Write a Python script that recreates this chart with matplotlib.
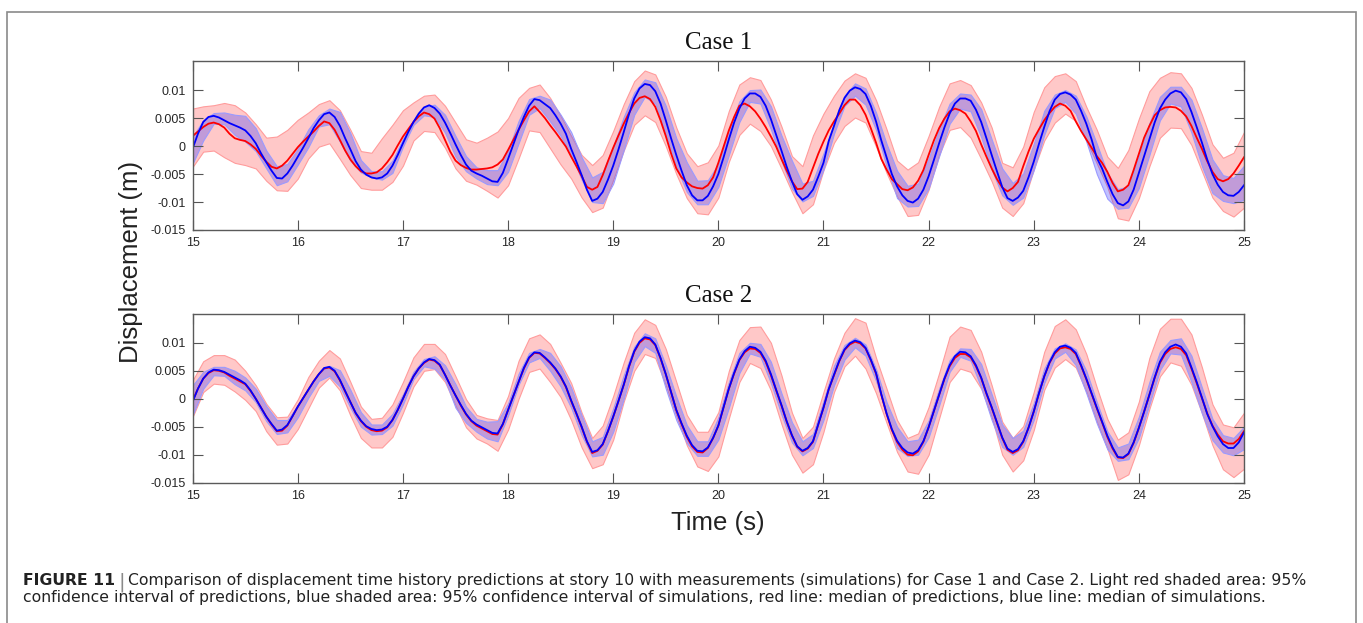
import numpy as np
import matplotlib.pyplot as plt
from matplotlib.patches import Rectangle

# sampling times (s): bands every 0.1 s, medians every 0.05 s
time = np.linspace(15, 25, 101)
time_fine = np.linspace(15, 25, 201)

# displacement values in mm
# Case 1 medians, one row per half second
c1_pred_med = [1.8, 2.6, 3.4, 4.0, 4.2, 3.9, 3.3, 2.2, 1.4, 1.1,
               0.9, 0.3, -0.5, -1.7, -2.8, -3.7, -4.0, -3.5, -2.6, -1.4,
               -0.2, 0.8, 1.7, 2.6, 3.6, 4.4, 4.1, 2.9, 1.1, -0.8,
               -2.4, -3.6, -4.5, -4.9, -4.9, -4.7, -4.0, -2.9, -1.6, 0.1,
               1.7, 3.0, 4.3, 5.3, 6.0, 5.7, 4.9, 3.2, 1.1, -1.0,
               -2.6, -3.4, -3.9, -4.2, -4.2, -4.1, -4.0, -3.8, -3.3, -2.4,
               -0.7, 1.1, 2.9, 4.6, 6.2, 7.1, 6.1, 5.0, 3.7, 2.5,
               1.2, -0.1, -1.9, -3.6, -5.4, -7.3, -7.8, -7.3, -5.2, -2.7,
               -0.3, 1.9, 4.0, 5.9, 7.6, 8.6, 8.9, 8.4, 7.0, 4.6,
               1.8, -1.3, -4.0, -5.6, -6.5, -7.2, -7.5, -7.6, -7.0, -5.6,
               -3.0, -0.1, 2.8, 5.2, 7.2, 7.6, 7.1, 6.2, 4.9, 3.4,
               1.7, -0.1, -2.3, -4.4, -6.3, -7.7, -7.6, -6.4, -3.9, -1.4,
               0.8, 2.8, 4.4, 5.8, 7.3, 8.3, 8.3, 7.3, 5.6, 3.2,
               0.6, -2.3, -4.2, -5.9, -6.8, -7.7, -7.9, -7.4, -6.2, -4.3,
               -1.6, 1.0, 3.2, 4.9, 6.2, 6.7, 6.4, 5.8, 4.4, 2.7,
               0.3, -1.9, -4.0, -5.9, -7.4, -8.1, -7.5, -6.4, -3.6, -1.0,
               1.3, 3.0, 4.6, 5.9, 7.0, 7.6, 7.2, 6.3, 4.4, 2.7,
               1.2, -0.3, -1.8, -3.0, -4.6, -6.6, -8.1, -7.8, -7.0, -4.3,
               -1.4, 1.5, 3.6, 5.5, 6.4, 6.9, 7.0, 6.9, 6.3, 5.3,
               3.6, 1.5, -0.5, -2.7, -4.6, -5.9, -6.3, -5.9, -4.9, -3.5,
               -2.0]
c1_sim_med = [-0.4, 2.2, 4.3, 5.2, 5.4, 5.1, 4.6, 4.1, 3.7, 3.3,
              2.8, 1.8, 0.5, -1.3, -2.9, -4.4, -5.7, -5.8, -4.9, -3.5,
              -1.9, -0.3, 1.4, 3.2, 4.6, 5.7, 6.0, 5.2, 3.6, 1.4,
              -0.6, -2.7, -4.2, -5.1, -5.6, -5.8, -5.6, -4.9, -3.5, -1.6,
              0.5, 2.5, 4.3, 5.8, 6.9, 7.3, 6.8, 5.8, 4.2, 2.3,
              0.3, -1.6, -3.3, -4.4, -4.9, -5.3, -5.8, -6.3, -6.4, -4.8,
              -2.3, 0.3, 2.9, 5.2, 7.2, 8.4, 8.2, 7.5, 6.8, 5.5,
              4.0, 2.2, -0.5, -2.8, -5.2, -7.8, -9.8, -9.4, -8.2, -6.0,
              -3.5, -0.6, 2.5, 5.7, 8.5, 10.3, 11.1, 10.9, 9.8, 7.6,
              4.6, 1.4, -1.6, -4.4, -7.0, -8.8, -9.7, -9.7, -8.9, -7.2,
              -5.0, -2.0, 1.2, 4.2, 6.7, 8.5, 9.4, 9.4, 8.8, 7.2,
              4.8, 2.0, -0.8, -3.7, -6.3, -8.6, -9.6, -9.0, -7.8, -5.5,
              -3.0, 0.9, 3.6, 6.4, 8.6, 9.9, 10.5, 10.2, 9.3, 7.2,
              4.4, 1.0, -2.0, -5.0, -7.2, -8.8, -9.8, -10.1, -9.4, -7.8,
              -5.4, -2.5, 0.5, 3.3, 5.8, 7.6, 8.5, 8.5, 8.1, 6.5,
              4.3, 1.4, -1.6, -4.5, -7.3, -9.3, -9.8, -9.2, -8.0, -5.6,
              -2.8, 0.4, 3.4, 6.2, 8.3, 9.3, 9.6, 9.2, 8.3, 6.3,
              4.0, 1.2, -2.1, -4.0, -6.4, -8.6, -10.2, -10.6, -9.9, -7.8,
              -4.8, -1.8, 1.2, 4.2, 6.7, 8.3, 9.4, 9.9, 9.6, 8.4,
              6.1, 3.4, 0.6, -2.4, -5.0, -6.9, -8.2, -8.8, -8.9, -8.2,
              -7.0]

# Case 1 bands, one row per second (x.0 ... x.9), last value at 25.0 s
c1_pred_lo = [-3.7, -1.0, -0.8, -2.0, -3.0, -3.4, -4.0, -6.2, -7.9, -8.0,
              -5.8, -2.2, -0.1, 0.5, -2.3, -5.2, -7.5, -7.8, -7.8, -6.4,
              -3.5, 1.0, 2.7, 2.5, -0.3, -4.0, -6.2, -6.9, -8.0, -9.2,
              -7.0, -2.2, 2.8, 2.5, -0.4, -3.3, -5.8, -9.2, -11.8, -11.0,
              -6.0, -0.8, 3.8, 5.5, 4.3, 0.0, -5.0, -9.3, -12.0, -12.2,
              -9.2, -2.8, 2.0, 4.0, 2.7, 0.0, -4.0, -8.2, -12.0, -10.4,
              -4.3, 0.6, 3.6, 5.1, 4.2, -0.1, -4.8, -9.0, -12.5, -12.3,
              -7.8, -1.6, 2.9, 3.4, 1.5, -2.3, -6.3, -11.0, -12.5, -10.2,
              -4.2, 1.0, 4.2, 5.8, 4.5, 1.0, -3.1, -7.3, -12.9, -13.3,
              -9.3, -3.6, 1.5, 3.3, 3.2, 0.2, -4.5, -9.2, -11.6, -12.6,
              -11.0]
c1_pred_hi = [6.7, 7.1, 7.3, 7.7, 7.3, 6.0, 3.9, 1.5, 1.7, 2.9,
              4.7, 6.0, 7.5, 8.2, 6.4, 2.9, -0.9, -1.2, 1.4, 3.8,
              6.4, 7.8, 9.0, 9.2, 7.2, 4.2, 1.2, 0.6, 1.5, 2.6,
              5.0, 8.6, 10.4, 11.0, 8.6, 5.4, 1.8, -1.6, -3.4, -1.6,
              2.7, 7.5, 11.6, 13.5, 12.8, 8.8, 3.3, -1.3, -3.6, -2.9,
              0.1, 6.3, 11.0, 12.3, 11.8, 8.3, 3.5, -1.8, -3.6, 1.9,
              5.8, 9.0, 11.7, 13.0, 12.2, 8.2, 3.0, -2.6, -4.2, -2.9,
              1.8, 7.0, 11.2, 11.8, 10.9, 7.8, 3.3, -3.0, -3.8, -0.1,
              6.1, 10.5, 12.5, 13.0, 11.6, 7.0, 2.9, -1.9, -3.9, -0.7,
              4.9, 9.8, 12.2, 13.2, 13.0, 10.4, 5.6, 0.3, -2.1, -1.2,
              2.5]
c1_sim_lo = [-3.1, 1.0, 4.0, 3.9, 2.0, 0.8, -0.9, -4.0, -7.0, -6.3,
             -3.3, -0.2, 3.5, 3.9, 0.8, -2.6, -4.7, -5.6, -6.0, -4.8,
             -0.1, 3.8, 5.5, 5.2, 2.4, -1.9, -4.5, -5.8, -6.8, -7.0,
             -4.6, 0.5, 5.6, 6.8, 4.4, 1.8, -1.5, -6.0, -10.0, -10.2,
             -6.7, -0.7, 5.6, 8.8, 7.6, 2.2, -3.6, -8.2, -10.4, -10.4,
             -7.3, -1.6, 4.3, 7.9, 7.6, 3.0, -2.6, -7.6, -9.9, -8.9,
             -4.2, 2.2, 7.2, 9.0, 7.4, 2.9, -3.6, -9.3, -10.8, -10.7,
             -7.6, -1.8, 4.0, 6.7, 6.2, 1.6, -4.2, -8.8, -10.5, -9.2,
             -4.3, 2.0, 6.8, 7.9, 5.8, 0.8, -5.0, -9.4, -11.2, -11.0,
             -7.5, -1.6, 4.6, 7.6, 7.1, 2.4, -3.6, -8.4, -9.8, -10.2,
             -9.6]
c1_sim_hi = [1.7, 4.6, 5.9, 6.0, 5.6, 5.4, 3.2, -0.8, -3.6, -3.2,
             -0.5, 3.0, 5.5, 6.7, 6.1, 2.3, -2.5, -4.5, -4.5, -2.6,
             1.3, 4.6, 7.0, 7.4, 5.6, 1.8, -1.8, -3.8, -4.3, -4.3,
             -0.8, 4.5, 8.4, 9.0, 8.3, 5.6, 2.5, -2.0, -5.6, -4.6,
             -0.1, 5.2, 9.6, 11.9, 11.4, 7.2, 1.4, -2.9, -6.2, -6.1,
             -3.2, 2.8, 8.0, 10.0, 10.1, 7.1, 1.9, -2.6, -6.7, -6.2,
             -1.3, 4.0, 9.0, 11.2, 10.3, 6.0, 0.4, -4.4, -7.1, -6.7,
             -2.2, 3.0, 7.6, 9.4, 9.2, 6.6, 1.2, -4.0, -6.6, -4.9,
             0.4, 6.3, 9.2, 10.0, 9.0, 5.3, 0.4, -4.8, -7.7, -7.2,
             -1.8, 4.1, 8.8, 10.6, 10.6, 8.3, 3.2, -2.4, -5.2, -5.7,
             -3.5]

# Case 2 medians, one row per half second
c2_pred_med = [-0.3, 1.8, 3.6, 4.6, 5.1, 5.0, 4.7, 4.1, 3.6, 3.1,
               2.6, 1.4, 0.0, -1.6, -3.2, -4.6, -5.8, -5.7, -4.8, -3.1,
               -1.4, 0.1, 1.6, 3.1, 4.4, 5.4, 5.6, 4.9, 3.3, 1.3,
               -0.6, -2.6, -4.0, -5.0, -5.6, -5.8, -5.7, -5.1, -3.8, -2.0,
               0.0, 2.1, 4.0, 5.4, 6.4, 7.0, 6.8, 6.0, 4.3, 2.4,
               0.6, -1.2, -2.8, -4.0, -4.8, -5.3, -5.8, -6.3, -6.4, -4.6,
               -2.0, 0.5, 3.0, 5.4, 7.3, 8.2, 8.1, 7.3, 6.4, 5.3,
               3.9, 2.1, -0.4, -2.7, -5.1, -7.7, -9.7, -9.3, -8.2, -5.8,
               -3.2, -0.4, 2.5, 5.7, 8.4, 10.0, 10.8, 10.6, 9.6, 7.2,
               4.4, 1.2, -2.0, -4.5, -6.8, -8.5, -9.5, -9.6, -8.8, -7.0,
               -4.8, -1.5, 1.8, 4.5, 6.9, 8.3, 9.0, 8.9, 8.2, 6.6,
               4.2, 1.5, -1.2, -4.1, -6.6, -8.6, -9.4, -8.9, -7.7, -4.6,
               -1.6, 1.7, 4.2, 6.7, 8.7, 9.7, 10.2, 9.9, 9.0, 6.9,
               4.5, 0.7, -2.7, -5.6, -7.7, -9.1, -10.0, -10.1, -9.4, -7.7,
               -5.1, -2.2, 0.7, 3.5, 5.8, 7.3, 8.0, 8.0, 7.4, 5.8,
               3.7, 0.9, -1.6, -4.3, -7.0, -9.1, -9.7, -9.2, -7.7, -5.2,
               -2.3, 1.0, 4.0, 6.4, 8.1, 9.0, 9.2, 8.9, 8.0, 5.9,
               3.5, 0.9, -1.7, -4.2, -6.8, -8.9, -10.5, -10.6, -9.9, -7.9,
               -5.2, -2.3, 0.7, 3.7, 6.4, 8.0, 8.9, 9.2, 8.9, 7.8,
               5.4, 2.8, 0.1, -2.6, -4.8, -6.4, -7.6, -8.0, -8.0, -7.2,
               -5.8]
c2_sim_med = [-0.5, 1.8, 3.6, 4.7, 5.2, 5.1, 4.8, 4.3, 3.8, 3.3,
              2.7, 1.5, 0.0, -1.6, -3.2, -4.5, -5.7, -5.5, -4.7, -3.1,
              -1.4, 0.1, 1.6, 3.1, 4.4, 5.5, 5.7, 5.0, 3.4, 1.4,
              -0.6, -2.5, -3.9, -4.9, -5.4, -5.6, -5.5, -5.0, -3.8, -2.0,
              0.0, 2.1, 4.0, 5.4, 6.5, 7.1, 6.9, 6.1, 4.3, 2.4,
              0.6, -1.1, -2.7, -3.9, -4.6, -5.1, -5.6, -6.1, -6.2, -4.5,
              -2.0, 0.5, 3.0, 5.5, 7.4, 8.3, 8.2, 7.4, 6.5, 5.4,
              4.0, 2.2, -0.3, -2.6, -5.0, -7.6, -9.5, -9.2, -8.1, -5.8,
              -3.2, -0.4, 2.5, 5.8, 8.5, 10.2, 11.0, 10.8, 9.7, 7.3,
              4.4, 1.2, -2.0, -4.4, -6.6, -8.3, -9.3, -9.4, -8.7, -7.0,
              -4.8, -1.5, 1.8, 4.6, 7.0, 8.5, 9.3, 9.1, 8.4, 6.8,
              4.4, 1.6, -1.1, -4.0, -6.5, -8.5, -9.3, -8.8, -7.6, -4.6,
              -1.6, 1.7, 4.3, 6.8, 8.8, 9.9, 10.4, 10.1, 9.1, 7.0,
              4.6, 0.8, -2.6, -5.4, -7.5, -8.8, -9.6, -9.8, -9.2, -7.6,
              -5.1, -2.2, 0.7, 3.6, 6.0, 7.6, 8.4, 8.3, 7.6, 6.0,
              3.8, 1.0, -1.5, -4.2, -6.9, -8.9, -9.5, -9.0, -7.6, -5.2,
              -2.3, 1.0, 4.0, 6.5, 8.3, 9.3, 9.5, 9.1, 8.2, 6.0,
              3.6, 1.0, -1.6, -4.1, -6.6, -8.7, -10.4, -10.5, -9.8, -7.8,
              -5.2, -2.3, 0.7, 3.8, 6.6, 8.3, 9.3, 9.7, 9.3, 8.1,
              5.6, 3.0, 0.2, -2.7, -4.9, -6.7, -8.1, -8.8, -8.8, -7.8,
              -6.0]

# Case 2 bands, one row per second (x.0 ... x.9), last value at 25.0 s
c2_pred_lo = [-3.2, 1.2, 2.7, 2.5, 1.3, -0.2, -2.2, -5.8, -8.2, -8.0,
              -5.4, -1.7, 2.0, 3.8, 1.5, -3.0, -7.0, -8.7, -8.7, -6.8,
              -2.5, 2.2, 5.0, 5.3, 3.0, -1.2, -5.1, -7.1, -8.0, -9.3,
              -5.5, 0.0, 4.8, 5.4, 3.0, 0.3, -3.8, -8.7, -12.4, -11.7,
              -7.3, -0.5, 5.0, 8.0, 7.3, 2.4, -3.0, -8.3, -12.1, -12.9,
              -10.3, -3.5, 3.0, 6.4, 5.5, 1.5, -4.5, -10.0, -13.2, -11.7,
              -5.9, 1.2, 5.8, 7.7, 5.4, 1.0, -4.3, -9.5, -13.0, -13.4,
              -10.0, -3.5, 3.0, 5.4, 4.8, 1.8, -3.3, -10.0, -13.0, -11.0,
              -5.6, 1.6, 5.6, 7.1, 5.6, 1.3, -4.1, -8.9, -14.5, -13.5,
              -8.3, -1.8, 4.0, 6.5, 5.9, 2.5, -2.6, -8.3, -12.6, -14.0,
              -12.5]
c2_pred_hi = [3.3, 6.7, 7.8, 7.8, 7.0, 5.0, 2.4, -0.9, -3.3, -3.2,
              -0.1, 3.9, 6.8, 8.7, 7.2, 3.0, -1.4, -3.6, -3.4, -1.0,
              3.0, 7.4, 9.8, 9.8, 8.0, 4.0, -0.1, -2.9, -3.5, -3.8,
              0.5, 6.8, 10.8, 11.5, 9.8, 6.4, 2.8, -2.5, -7.0, -4.8,
              0.5, 6.5, 11.8, 14.2, 13.2, 8.9, 3.0, -2.9, -5.9, -5.9,
              -2.4, 5.0, 10.5, 12.8, 12.9, 10.0, 4.2, -2.5, -7.0, -5.0,
              1.2, 7.2, 11.8, 14.4, 13.6, 7.3, 1.8, -3.8, -7.0, -6.2,
              -1.5, 4.6, 11.1, 12.9, 12.3, 8.4, 2.4, -4.1, -7.0, -4.9,
              1.2, 8.4, 13.0, 14.2, 12.4, 8.0, 2.0, -3.6, -7.3, -6.0,
              -0.5, 7.3, 12.5, 14.3, 14.3, 11.5, 5.6, -1.0, -4.6, -5.1,
              -2.5]
c2_sim_lo = [-2.9, 1.8, 4.2, 4.1, 2.6, 1.5, -0.6, -4.0, -6.3, -6.0,
             -3.3, 0.2, 3.2, 4.1, 2.2, -1.6, -5.0, -6.4, -6.3, -4.8,
             -1.0, 3.5, 5.8, 5.4, 3.4, -1.6, -4.3, -5.9, -7.1, -7.6,
             -3.0, 2.5, 6.5, 7.3, 5.0, 2.2, -1.6, -6.5, -10.3, -10.0,
             -5.9, 0.0, 6.6, 9.4, 8.2, 1.8, -3.8, -7.9, -10.2, -10.2,
             -7.3, -1.6, 4.6, 8.1, 7.5, 2.8, -2.8, -7.8, -10.1, -8.8,
             -3.8, 2.4, 7.0, 9.2, 7.7, 3.2, -2.6, -8.8, -10.2, -10.0,
             -6.9, -1.2, 4.8, 7.5, 6.8, 2.0, -3.8, -8.6, -10.0, -8.6,
             -3.8, 2.8, 7.2, 8.4, 6.0, 1.0, -4.4, -9.0, -11.1, -10.8,
             -7.0, -1.0, 5.1, 8.1, 7.9, 3.0, -2.6, -7.4, -9.6, -10.1,
             -9.0]
c2_sim_hi = [2.4, 4.8, 5.7, 5.7, 5.0, 3.8, 1.8, -1.3, -3.8, -3.8,
             -1.1, 2.0, 4.6, 5.9, 5.1, 1.6, -2.4, -4.6, -4.6, -2.7,
             0.8, 4.8, 7.1, 7.6, 6.0, 2.6, -1.4, -3.6, -4.1, -4.0,
             -0.8, 4.5, 8.2, 8.9, 8.2, 5.8, 2.0, -3.0, -7.6, -6.8,
             -1.7, 4.2, 9.3, 11.7, 10.8, 6.0, 0.4, -4.7, -7.6, -7.6,
             -3.3, 3.0, 8.2, 10.0, 9.8, 6.6, 1.0, -4.2, -7.6, -6.3,
             -0.4, 5.9, 9.6, 10.9, 9.7, 5.3, -0.6, -5.0, -7.6, -7.3,
             -3.9, 1.8, 6.9, 9.0, 8.9, 6.2, 0.8, -4.6, -7.0, -5.7,
             -0.8, 5.4, 9.0, 9.9, 8.8, 5.0, -0.6, -5.8, -8.7, -8.0,
             -3.2, 3.0, 8.4, 10.5, 10.8, 7.7, 2.0, -3.6, -6.5, -7.0,
             -5.0]

cases = ['Case 1', 'Case 2']
series = [
    (c1_pred_lo, c1_pred_hi, c1_pred_med, c1_sim_lo, c1_sim_hi, c1_sim_med),
    (c2_pred_lo, c2_pred_hi, c2_pred_med, c2_sim_lo, c2_sim_hi, c2_sim_med),
]
xticks = list(range(15, 26))
yticks = [-0.015, -0.01, -0.005, 0, 0.005, 0.01]
ytick_labels = ['-0.015', '-0.01', '-0.005', '0', '0.005', '0.01']

caption_head = 'FIGURE 11'
caption_line1 = ('Comparison of displacement time history predictions at story 10 with '
                 'measurements (simulations) for Case 1 and Case 2. Light red shaded area: 95%')
caption_line2 = ('confidence interval of predictions, blue shaded area: 95% confidence interval '
                 'of simulations, red line: median of predictions, blue line: median of simulations.')

W, H = 1363, 623
fig = plt.figure(figsize=(W / 100, H / 100), dpi=100)
plt.rcParams['font.family'] = ['Liberation Sans', 'DejaVu Sans']

# axes boxes in pixels: (left, top, right, bottom)
boxes = [(192.7, 61, 1244, 230), (192.7, 313.7, 1244, 482.7)]
mm = 1e-3

for (l, t, r, b), title, (plo, phi, pmed, slo, shi, smed) in zip(boxes, cases, series):
    ax = fig.add_axes([l / W, 1 - b / H, (r - l) / W, (b - t) / H])
    ax.fill_between(time, np.array(plo) * mm, np.array(phi) * mm,
                    facecolor='#ffc8c8', edgecolor='#ff9c9c', lw=0.8)
    ax.fill_between(time, np.array(slo) * mm, np.array(shi) * mm,
                    facecolor=(0.2, 0.2, 1.0, 0.3), edgecolor='#9a9aff', lw=0.8)
    ax.plot(time_fine, np.array(pmed) * mm, color='#ff0000', lw=1.3)
    ax.plot(time_fine, np.array(smed) * mm, color='#0000ff', lw=1.3)

    ax.set_xlim(15, 25)
    ax.set_ylim(-0.015, 0.0152)
    ax.set_xticks(xticks)
    ax.set_xticklabels([str(x) for x in xticks])
    ax.set_yticks(yticks)
    ax.set_yticklabels(ytick_labels)
    ax.tick_params(direction='in', length=7, width=0.8, top=True, right=True,
                   color='#555555', labelcolor='#262626', labelsize=9)
    ax.tick_params(axis='x', pad=5)
    ax.tick_params(axis='y', pad=5)
    for s in ax.spines.values():
        s.set_color('#5a5a5a')
        s.set_linewidth(1.0)
    ax.set_title(title, fontfamily='Liberation Serif', fontsize=18, pad=8.5, color='#111111')

fig.text(131 / W, 1 - 262 / H, 'Displacement (m)', rotation=90, ha='center', va='center',
         fontsize=18.5, color='#222222')
fig.text(718 / W, 1 - 530 / H, 'Time (s)', ha='center', va='baseline',
         fontsize=18.5, color='#222222')

# outer frame, open at the bottom
fig.add_artist(Rectangle((7 / W, -0.1), (1356 - 7) / W, 1.1 - 11.7 / H,
                         transform=fig.transFigure, fill=False,
                         edgecolor='#8a8a8a', lw=1.2, clip_on=False))

# caption in a wide sans face, sized so the second line spans the text block
cap_font = 'DejaVu Sans'
cap_size = 10
x0 = 22.7
fig.canvas.draw()
renderer = fig.canvas.get_renderer()
probe = fig.text(x0 / W, 0, caption_line2, fontsize=cap_size, family=cap_font)
w = probe.get_window_extent(renderer).width
probe.remove()
cap_size = cap_size * (1240 / w)

head = fig.text(x0 / W, 1 - 585 / H, caption_head, fontsize=cap_size, fontweight='bold',
                family=cap_font, color='#222222', va='baseline')
hx = head.get_window_extent(renderer).x1
bar = fig.text((hx + 4) / W, 1 - 587 / H, '|', fontsize=cap_size * 1.25, color='#8a8a8a',
               family=cap_font, va='baseline')
bx = bar.get_window_extent(renderer).x1
fig.text((bx + 3) / W, 1 - 585 / H, caption_line1, fontsize=cap_size, family=cap_font,
         color='#222222', va='baseline')
fig.text(x0 / W, 1 - 602 / H, caption_line2, fontsize=cap_size, family=cap_font,
         color='#222222', va='baseline')

fig.savefig('out.png', dpi=100)
